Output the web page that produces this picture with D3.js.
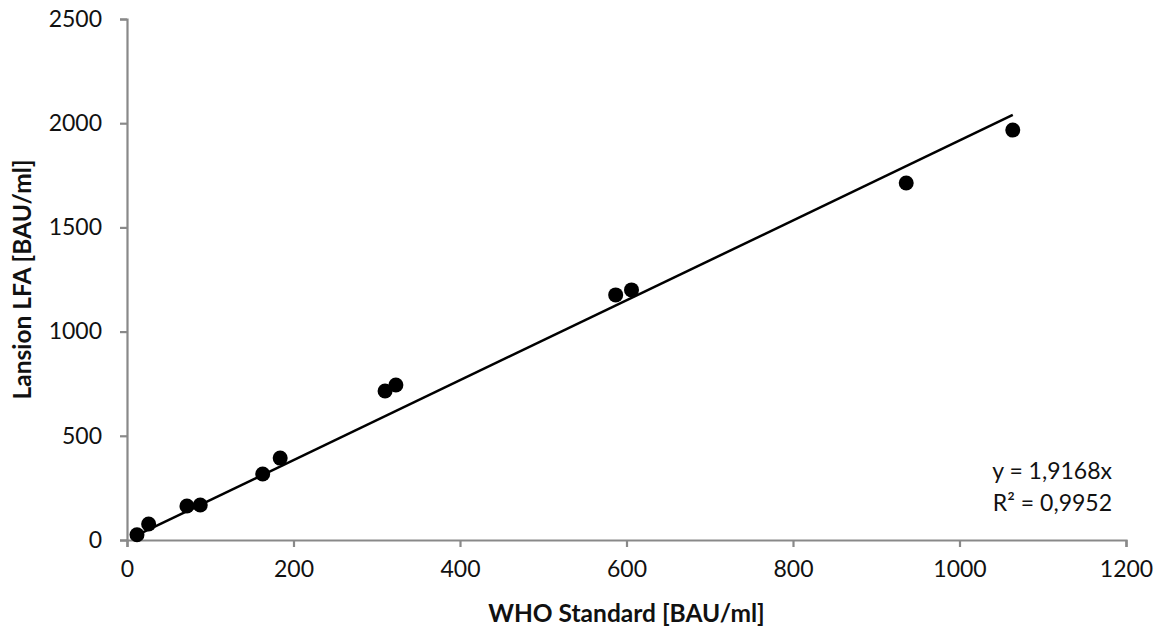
<!DOCTYPE html>
<html>
<head>
<meta charset="utf-8">
<script src="https://cdn.jsdelivr.net/npm/d3@7"></script>
<style>
  body { margin: 0; background: #fff; }
  svg { font-family: "Lato", "Open Sans", sans-serif; }
</style>
</head>
<body>
<svg id="chart" width="1158" height="634"></svg>
<script>
// Valores
const whoValues = [12, 26, 72, 88, 163, 184, 310, 323, 587, 606, 936, 1064];
const lfaValues = [25, 77, 163, 168, 317, 393, 715, 744, 1176, 1200, 1713, 1967];
const slope = 1.9168;
const xTicks = [0, 200, 400, 600, 800, 1000, 1200];
const yTicks = [0, 500, 1000, 1500, 2000, 2500];
const equationLines = ["y = 1,9168x", "R² = 0,9952"];

const svg = d3.select("#chart");
const margin = {left: 127, right: 32, top: 19, bottom: 94};
const width = 1158, height = 634;

const x = d3.scaleLinear().domain([0, 1200]).range([margin.left, width - margin.right]);
const y = d3.scaleLinear().domain([0, 2500]).range([height - margin.bottom, margin.top]);

const axisColor = "#898989";

// Eixo X
const gx = svg.append("g")
    .attr("transform", `translate(0,${y(0)})`)
    .call(d3.axisBottom(x).tickValues(xTicks).tickFormat(d3.format("d")).tickSize(7).tickPadding(14));
// Eixo Y
const gy = svg.append("g")
    .attr("transform", `translate(${x(0)},0)`)
    .call(d3.axisLeft(y).tickValues(yTicks).tickFormat(d3.format("d")).tickSize(7).tickPadding(18));

[gx, gy].forEach(g => {
    g.select(".domain").attr("stroke", axisColor).attr("stroke-width", 2.2);
    g.selectAll(".tick line").attr("stroke", axisColor).attr("stroke-width", 2.2);
    g.selectAll(".tick text")
        .attr("fill", "#111")
        .style("font-size", "23px")
        .style("font-family", "Lato, sans-serif");
});

// Linha de tendência (de min a max de x)
const xMin = d3.min(whoValues), xMax = d3.max(whoValues);
svg.append("line")
    .attr("x1", x(xMin))
    .attr("y1", y(slope * xMin))
    .attr("x2", x(xMax))
    .attr("y2", y(slope * xMax))
    .attr("stroke", "#000")
    .attr("stroke-width", 2.5);

// Pontos
svg.append("g").selectAll("circle")
    .data(whoValues.map((d, i) => [d, lfaValues[i]]))
    .join("circle")
    .attr("cx", d => x(d[0]))
    .attr("cy", d => y(d[1]))
    .attr("r", 7.5)
    .attr("fill", "#000");

// Equação
svg.append("g").selectAll("text")
    .data(equationLines)
    .join("text")
    .attr("x", 1112)
    .attr("y", (d, i) => 479 + i * 32)
    .attr("text-anchor", "end")
    .attr("fill", "#111")
    .style("font-size", "23px")
    .text(d => d);

// Rótulos dos eixos
svg.append("text")
    .attr("text-anchor", "middle")
    .attr("x", (x(0) + x(1200)) / 2)
    .attr("y", 622)
    .attr("font-weight", "bold")
    .attr("fill", "#111")
    .style("font-size", "24.5px")
    .text("WHO Standard [BAU/ml]");

svg.append("text")
    .attr("text-anchor", "middle")
    .attr("transform", "rotate(-90)")
    .attr("x", -(y(0) + y(2500)) / 2)
    .attr("y", 31)
    .attr("font-weight", "bold")
    .attr("fill", "#111")
    .style("font-size", "24.5px")
    .text("Lansion LFA [BAU/ml]");
</script>
</body>
</html>
